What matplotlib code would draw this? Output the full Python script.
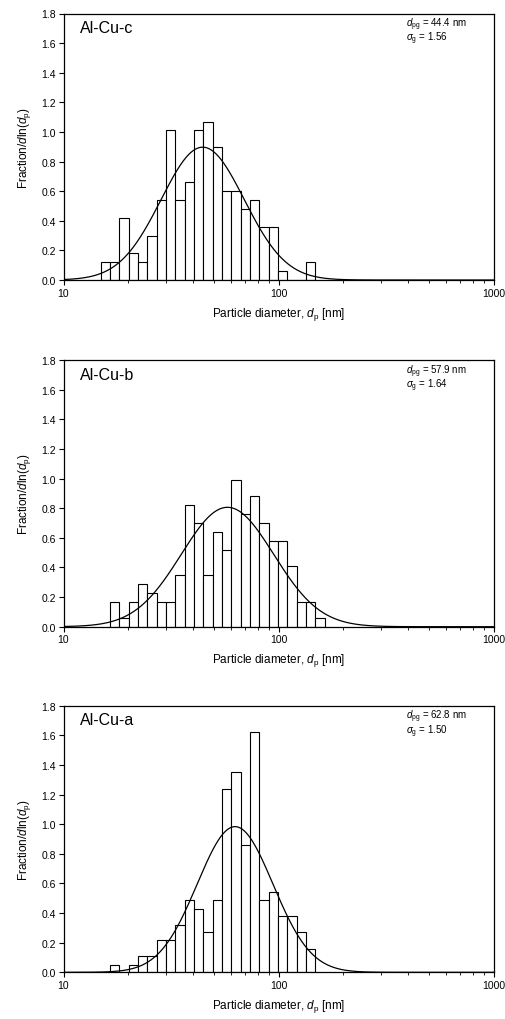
import numpy as np
import matplotlib
matplotlib.use("Agg")
import matplotlib.pyplot as plt
from matplotlib.ticker import FixedLocator, FuncFormatter, LogLocator, NullFormatter

plt.rcParams['font.family'] = ['Liberation Sans', 'DejaVu Sans']
plt.rcParams['mathtext.fontset'] = 'custom'
plt.rcParams['mathtext.rm'] = 'Liberation Sans'
plt.rcParams['mathtext.it'] = 'Liberation Sans:italic'
plt.rcParams['mathtext.bf'] = 'Liberation Sans:bold'

# ---- data (bins are 0.1 wide in ln(d); first lower edge given as ln value) ----
labels = ["Al-Cu-c", "Al-Cu-b", "Al-Cu-a"]
dpg = [44.4, 57.9, 62.8]
sigma_g = [1.56, 1.64, 1.50]
bin_width_ln = 0.1

first_ln_c = 2.7
heights_c = [0.12, 0.12, 0.42, 0.18, 0.12, 0.30, 0.54, 1.01, 0.54, 0.66, 1.01,
             1.07, 0.90, 0.60, 0.60, 0.48, 0.54, 0.36, 0.36, 0.06, 0.0, 0.0, 0.12]

first_ln_b = 2.8
heights_b = [0.17, 0.06, 0.17, 0.29, 0.23, 0.17, 0.17, 0.35, 0.82, 0.70, 0.35,
             0.64, 0.52, 0.99, 0.76, 0.88, 0.70, 0.58, 0.58, 0.41, 0.17, 0.17, 0.06]

first_ln_a = 2.8
heights_a = [0.05, 0.0, 0.05, 0.11, 0.11, 0.22, 0.22, 0.32, 0.49, 0.43, 0.27,
             0.49, 1.24, 1.35, 0.86, 1.62, 0.49, 0.54, 0.38, 0.38, 0.27, 0.16]

firsts = [first_ln_c, first_ln_b, first_ln_a]
heights = [heights_c, heights_b, heights_a]

y_ticks = [0.0, 0.2, 0.4, 0.6, 0.8, 1.0, 1.2, 1.4, 1.6, 1.8]
x_ticks = [10, 100, 1000]

fig = plt.figure(figsize=(5.05, 10.2), dpi=100)
left = 63.5 / 505
width = 430 / 505
bottoms_px = [281.0, 627.7, 973.3]
height = 266.5 / 1020

for i in range(3):
    ax = fig.add_axes([left, 1 - bottoms_px[i] / 1020, width, height])
    h = np.array(heights[i])
    ln_lo = firsts[i] + bin_width_ln * np.arange(len(h))
    lo = np.exp(ln_lo)
    hi = np.exp(ln_lo + bin_width_ln)
    ax.bar(lo, h, width=hi - lo, align='edge', facecolor='white',
           edgecolor='black', linewidth=0.8, zorder=2)
    # lognormal fit
    d = np.logspace(1, 3, 600)
    ls = np.log(sigma_g[i])
    f = 1.0 / (np.sqrt(2 * np.pi) * ls) * np.exp(-(np.log(d) - np.log(dpg[i])) ** 2 / (2 * ls ** 2))
    ax.plot(d, f, color='black', linewidth=0.9, zorder=3)

    ax.set_xscale('log')
    ax.set_xlim(10, 1000)
    ax.set_ylim(0, 1.8)
    ax.xaxis.set_major_locator(FixedLocator(x_ticks))
    ax.xaxis.set_major_formatter(FuncFormatter(lambda v, p: f"{v:.0f}"))
    ax.xaxis.set_minor_locator(LogLocator(base=10, subs=np.arange(2, 10)))
    ax.xaxis.set_minor_formatter(NullFormatter())
    ax.yaxis.set_major_locator(FixedLocator(y_ticks))
    ax.yaxis.set_major_formatter(FuncFormatter(lambda v, p: f"{v:.1f}"))
    ax.tick_params(axis='both', which='major', direction='out', length=3.5,
                   width=0.8, labelsize=7.5, pad=2)
    ax.tick_params(axis='x', which='minor', direction='out', length=2.5, width=0.6)
    for s in ax.spines.values():
        s.set_linewidth(0.9)

    ax.set_xlabel(r"Particle diameter, $d_{\rm p}$ [nm]", fontsize=8.5, labelpad=5)
    ax.set_ylabel(r"Fraction/$d$ln($d_{\rm p}$)", fontsize=8.5, labelpad=6)

    ax.text(0.038, 0.975, labels[i], transform=ax.transAxes, fontsize=11.5,
            ha='left', va='top')
    ax.text(0.797, 0.952, r"$d_{\rm pg}$ = %.1f nm" % dpg[i], transform=ax.transAxes,
            fontsize=7.0, ha='left', va='baseline')
    ax.text(0.797, 0.898, r"$\sigma_{\rm g}$ = %.2f" % sigma_g[i], transform=ax.transAxes,
            fontsize=7.0, ha='left', va='baseline')

fig.savefig("out.png", dpi=100)
